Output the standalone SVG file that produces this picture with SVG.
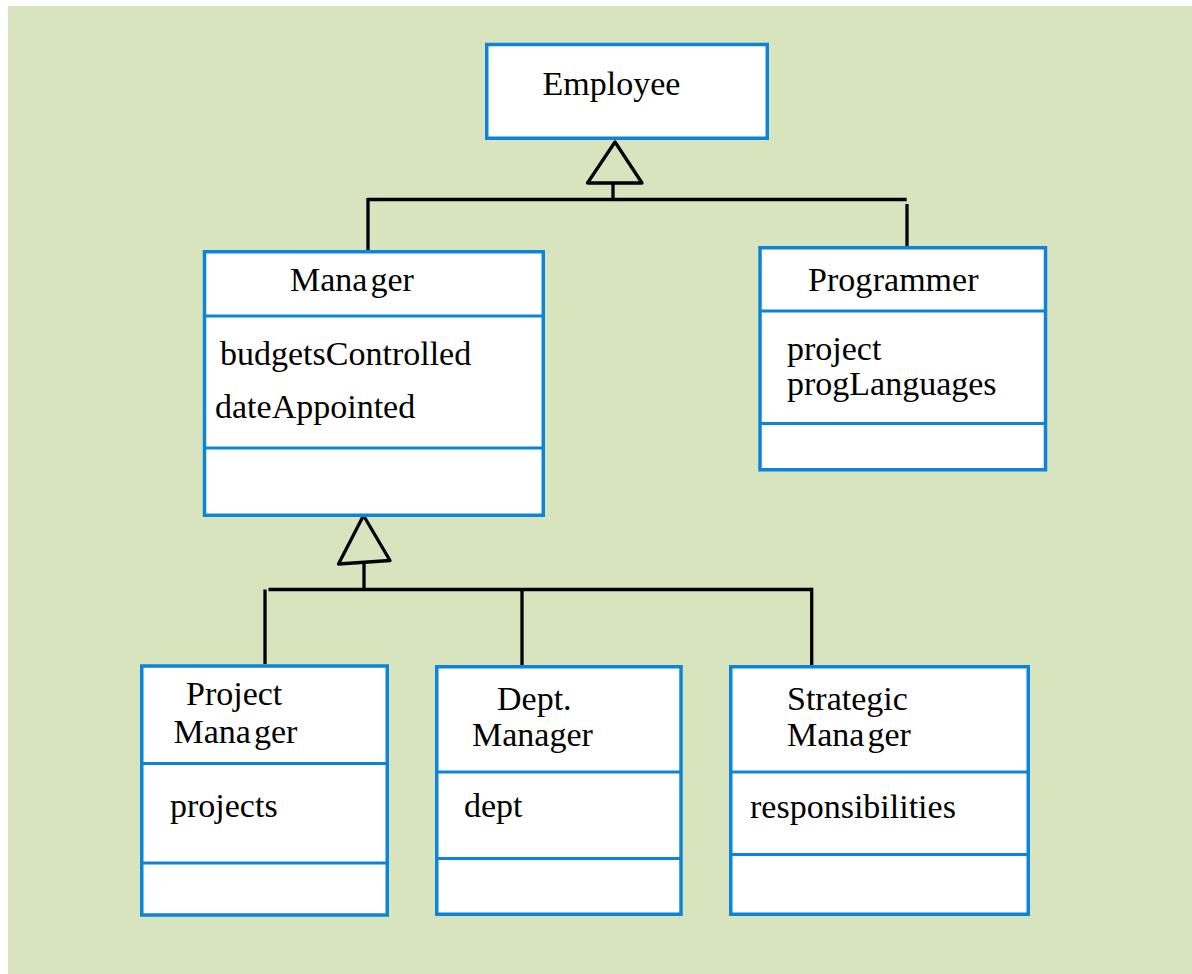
<svg xmlns="http://www.w3.org/2000/svg" width="1192" height="974" viewBox="0 0 1192 974">
<style>
.box{fill:#ffffff;stroke:#0b84d9;stroke-width:3.5}
.div{stroke:#0b84d9;stroke-width:3.2;fill:none}
.t{font-family:"Liberation Serif","Times New Roman",serif;font-size:34px;fill:#000000}
.sp{word-spacing:-5.5px}
.sp2{word-spacing:-8px}
.ln{stroke:#000000;stroke-width:3.3;fill:none}
.tri{stroke:#000000;stroke-width:3.3;fill:none;stroke-linejoin:round}
</style>
<rect x="0" y="0" width="1192" height="974" fill="#ffffff"/>
<rect x="8" y="6" width="1184" height="968" fill="#d7e4bd"/>
<g id="connectors">
<polygon class="tri" points="615,142 587.5,183 642,183"/>
<line class="ln" x1="613" y1="183" x2="613" y2="199.5"/>
<line class="ln" x1="367.7" y1="199.5" x2="906.7" y2="199.5"/>
<line class="ln" x1="368" y1="198" x2="368" y2="250"/>
<line class="ln" x1="907" y1="204" x2="907" y2="246"/>
<polygon class="tri" points="363.5,515.5 338.5,564 390,560.5"/>
<line class="ln" x1="364" y1="562" x2="364" y2="589.5"/>
<line class="ln" x1="268.5" y1="589.5" x2="811.7" y2="589.5"/>
<line class="ln" x1="265" y1="589.5" x2="265" y2="664"/>
<line class="ln" x1="522" y1="589.5" x2="522" y2="665"/>
<polyline class="ln" points="810,589.5 811.7,589.5 811.7,665"/>
</g>
<g id="employee">
<rect class="box" x="486.75" y="44.5" width="280.5" height="93.75"/>
<text class="t" x="542.5" y="95">Employee</text>
</g>
<g id="manager">
<rect class="box" x="204.5" y="251.75" width="338.75" height="263.5"/>
<line class="div" x1="204.5" y1="316" x2="543.25" y2="316"/>
<line class="div" x1="204.5" y1="448" x2="543.25" y2="448"/>
<text class="t sp" x="290" y="291">Mana ger</text>
<text class="t" x="220" y="365">budgetsControlled</text>
<text class="t" x="215" y="418">dateAppointed</text>
</g>
<g id="programmer">
<rect class="box" x="760" y="247.75" width="285.5" height="222"/>
<line class="div" x1="760" y1="311" x2="1045.5" y2="311"/>
<line class="div" x1="760" y1="423.5" x2="1045.5" y2="423.5"/>
<text class="t sp2" x="808" y="291">Prog rammer</text>
<text class="t" x="787" y="360">project</text>
<text class="t" x="787" y="395">progLanguages</text>
</g>
<g id="project-manager">
<rect class="box" x="141.75" y="666" width="245.5" height="249"/>
<line class="div" x1="141.75" y1="763.5" x2="387.25" y2="763.5"/>
<line class="div" x1="141.75" y1="863" x2="387.25" y2="863"/>
<text class="t" x="186" y="705">Project</text>
<text class="t sp" x="173.5" y="743">Mana ger</text>
<text class="t" x="170" y="817">projects</text>
</g>
<g id="dept-manager">
<rect class="box" x="436.75" y="666.75" width="244.25" height="247.5"/>
<line class="div" x1="436.75" y1="772" x2="681" y2="772"/>
<line class="div" x1="436.75" y1="858.5" x2="681" y2="858.5"/>
<text class="t" x="497" y="709.5">Dept.</text>
<text class="t" x="472" y="746">Manager</text>
<text class="t" x="464" y="817">dept</text>
</g>
<g id="strategic-manager">
<rect class="box" x="730.75" y="666.75" width="297.5" height="247.5"/>
<line class="div" x1="730.75" y1="772" x2="1028.25" y2="772"/>
<line class="div" x1="730.75" y1="854.5" x2="1028.25" y2="854.5"/>
<text class="t" x="787" y="709.5">Strategic</text>
<text class="t sp" x="787" y="746">Mana ger</text>
<text class="t" x="750" y="817.5">responsibilities</text>
</g>
</svg>
